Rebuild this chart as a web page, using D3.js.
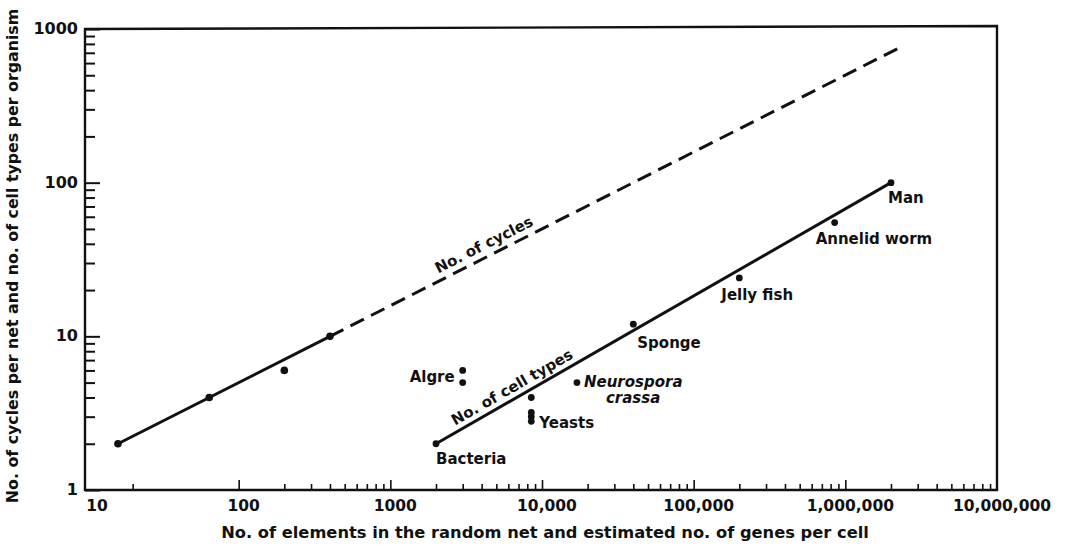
<!DOCTYPE html>
<html>
<head>
<meta charset="utf-8">
<script src="https://cdn.jsdelivr.net/npm/d3@7"></script>
<style>
  html, body { margin: 0; padding: 0; background: #fff; }
  svg text { font-family: "DejaVu Sans", "Noto Sans", sans-serif; font-weight: bold; fill: #111; }
</style>
</head>
<body>
<svg id="chart" width="1067" height="549"></svg>
<script>
// Network size vs. number of cycles (model) and genome size vs. cell types (organisms)
const xTickValues = [10, 100, 1000, 1e4, 1e5, 1e6, 1e7];
const xTickLabels = ["10", "100", "1000", "10,000", "100,000", "1,000,000", "10,000,000"];
const yTickValues = [1, 10, 100, 1000];
const yTickLabels = ["1", "10", "100", "1000"];

// Cycles per random net: measured points and the fitted line (solid, then extrapolated dashed)
const cyclePoints = [[16, 2], [64, 4], [200, 6], [400, 10]];
const cycleSolid = [[16, 2], [400, 10]];
const cycleDashed = [[400, 10], [2.3e6, 760]];

// Cell types per organism vs. estimated genes per cell
const organisms = ["Bacteria", "Algre", "Algre", "Yeasts", "Yeasts", "Yeasts", "Yeasts",
                   "Neurospora crassa", "Sponge", "Jelly fish", "Annelid worm", "Man"];
const organismGenes = [2000, 3000, 3000, 8500, 8500, 8500, 8500, 17000, 40000, 200000, 850000, 2000000];
const organismCellTypes = [2, 6, 5, 4, 3.2, 3, 2.8, 5, 12, 24, 55, 100];
const cellTypeLine = [[2000, 2], [2e6, 100]];

const svg = d3.select("#chart");
const mLeft = 85, mRight = 997, mTop = 29, mBottom = 490;

const x = d3.scaleLog().domain([10, 1e7]).range([mLeft + 2, mRight]);
const y = d3.scaleLog().domain([1, 1000]).range([mBottom, mTop]);

const ink = "#111";

// frame
svg.append("path")
  .attr("d", `M${mLeft},${mBottom} L${mLeft},${mTop} L${mRight},${mTop - 3} L${mRight},${mBottom} Z`)
  .attr("fill", "none").attr("stroke", ink).attr("stroke-width", 2.4);

// minor tick values per decade
function minorTicks(lo, hi) {
  const out = [];
  for (let d = lo; d < hi; d *= 10) for (let k = 2; k <= 9; k++) out.push(d * k);
  return out;
}

// y ticks (pointing inward)
const yAxisMajor = d3.axisRight(y).tickValues(yTickValues).tickSize(15).tickFormat("");
const yAxisMinor = d3.axisRight(y).tickValues(minorTicks(1, 1000)).tickSize(10).tickFormat("");
[yAxisMajor, yAxisMinor].forEach(ax => {
  const g = svg.append("g").attr("transform", `translate(${mLeft},0)`).call(ax);
  g.select(".domain").remove();
  g.selectAll("line").attr("stroke", ink).attr("stroke-width", 2);
});

// x ticks (pointing upward into the plot)
const xMinor = minorTicks(10, 1e7).filter(v => v >= 100 || v === 20);
const xAxisMajor = d3.axisTop(x).tickValues(xTickValues.slice(1, -1)).tickSize(10).tickFormat("");
const xAxisMinor = d3.axisTop(x).tickValues(xMinor).tickSize(6).tickFormat("");
[xAxisMajor, xAxisMinor].forEach(ax => {
  const g = svg.append("g").attr("transform", `translate(0,${mBottom})`).call(ax);
  g.select(".domain").remove();
  g.selectAll("line").attr("stroke", ink).attr("stroke-width", 1.6);
});

// tick labels
svg.append("g").selectAll("text").data(xTickValues).join("text")
  .attr("x", (d, i) => x(d) + (i === 0 ? 10 : 5))
  .attr("y", 511)
  .attr("text-anchor", "middle")
  .attr("font-size", 15.5)
  .text((d, i) => xTickLabels[i]);

svg.append("g").selectAll("text").data(yTickValues).join("text")
  .attr("x", 78)
  .attr("y", d => y(d) + 5)
  .attr("text-anchor", "end")
  .attr("font-size", 16)
  .text((d, i) => yTickLabels[i]);

// axis titles
svg.append("text")
  .attr("x", 545).attr("y", 538)
  .attr("text-anchor", "middle")
  .attr("font-size", 16.3)
  .text("No. of elements in the random net and estimated no. of genes per cell");

svg.append("text")
  .attr("transform", "translate(18,256) rotate(-90)")
  .attr("text-anchor", "middle")
  .attr("font-size", 15.8)
  .text("No. of cycles per net and no. of cell types per organism");

// lines
const line = d3.line().x(d => x(d[0])).y(d => y(d[1]));
svg.append("path").datum(cycleSolid).attr("d", line)
  .attr("fill", "none").attr("stroke", ink).attr("stroke-width", 3);
svg.append("path").datum(cycleDashed).attr("d", line)
  .attr("fill", "none").attr("stroke", ink).attr("stroke-width", 3)
  .attr("stroke-dasharray", "15,8");
svg.append("path").datum(cellTypeLine).attr("d", line)
  .attr("fill", "none").attr("stroke", ink).attr("stroke-width", 3);

// points
svg.append("g").selectAll("circle").data(cyclePoints).join("circle")
  .attr("cx", d => x(d[0])).attr("cy", d => y(d[1])).attr("r", 3.8).attr("fill", ink);
svg.append("g").selectAll("circle").data(organisms).join("circle")
  .attr("cx", (d, i) => x(organismGenes[i])).attr("cy", (d, i) => y(organismCellTypes[i]))
  .attr("r", 3.4).attr("fill", ink);

// line labels, rotated along their lines
function lineLabel(seg, atX, text, offset) {
  const [p0, p1] = seg;
  const x0 = x(p0[0]), y0 = y(p0[1]), x1 = x(p1[0]), y1 = y(p1[1]);
  const ang = Math.atan2(y1 - y0, x1 - x0) * 180 / Math.PI;
  const t = (Math.log(atX) - Math.log(p0[0])) / (Math.log(p1[0]) - Math.log(p0[0]));
  const v = Math.exp(Math.log(p0[1]) + t * (Math.log(p1[1]) - Math.log(p0[1])));
  svg.append("text")
    .attr("transform", `translate(${x(atX)},${y(v)}) rotate(${ang})`)
    .attr("y", -offset)
    .attr("text-anchor", "middle")
    .attr("font-size", 15)
    .text(text);
}
lineLabel(cycleDashed, 4500, "No. of cycles", 7);
lineLabel(cellTypeLine, 6900, "No. of cell types", 6);

// organism labels
function label(vx, vy, dx, dy, text, anchor) {
  return svg.append("text")
    .attr("x", x(vx) + dx).attr("y", y(vy) + dy)
    .attr("text-anchor", anchor || "start")
    .attr("font-size", 15)
    .text(text);
}
label(2000, 2, 0, 20, "Bacteria");
label(3000, 5.5, -8, 6, "Algre", "end");
label(8500, 3, 8, 11, "Yeasts");
label(40000, 12, 4, 24, "Sponge");
label(200000, 24, -18, 22, "Jelly fish");
label(850000, 55, -19, 21, "Annelid worm");
label(2000000, 100, -3, 20, "Man");

// two-line italic species name
const nc = svg.append("text")
  .attr("font-size", 15)
  .attr("font-style", "italic");
nc.append("tspan").attr("x", x(17000) + 7).attr("y", y(5) + 4).text("Neurospora");
nc.append("tspan").attr("x", x(17000) + 29).attr("dy", 16).text("crassa");
</script>
</body>
</html>
